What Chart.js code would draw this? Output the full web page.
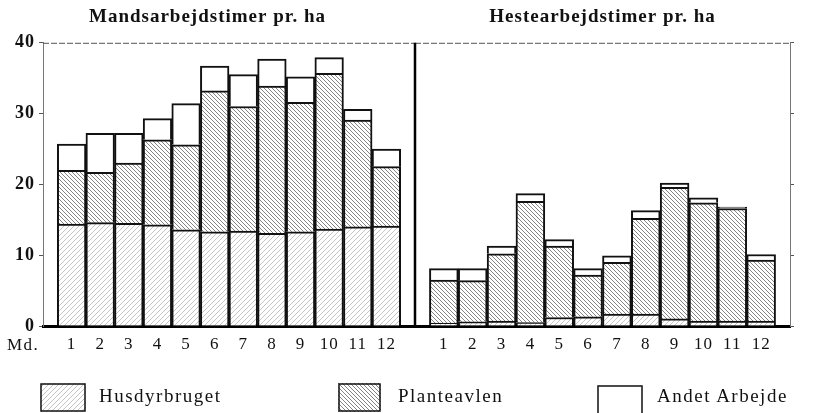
<!DOCTYPE html>
<html>
<head>
<meta charset="utf-8">
<script src="https://cdn.jsdelivr.net/npm/chart.js@4.4.0/dist/chart.umd.min.js"></script>
<style>
body { margin: 0; background: #fff; width: 815px; height: 413px; position: relative; overflow: hidden; font-family: 'Liberation Serif', 'DejaVu Serif', serif; color: #111; }
canvas.chart { position: absolute; top: 0; }
#left { left: 0; }
#right { left: 400px; }
.md { position: absolute; left: 7px; top: 336px; font-size: 17px; line-height: 17px; letter-spacing: 1.5px; }
.sw { position: absolute; top: 383px; }
.lt { position: absolute; top: 386px; font-size: 19px; line-height: 20px; letter-spacing: 1.5px; }
</style>
</head>
<body>
<canvas id="left" class="chart" width="430" height="413"></canvas>
<canvas id="right" class="chart" width="415" height="413"></canvas>
<div class="md">Md.</div>
<canvas id="sw1" class="sw" width="46" height="29" style="left:40px"></canvas>
<div class="lt" style="left:99px">Husdyrbruget</div>
<canvas id="sw2" class="sw" width="43" height="29" style="left:338px"></canvas>
<div class="lt" style="left:398px">Planteavlen</div>
<canvas id="sw3" class="sw" width="46" height="30" style="left:597px;top:385px"></canvas>
<div class="lt" style="left:657px">Andet Arbejde</div>
<script>
const months = [1, 2, 3, 4, 5, 6, 7, 8, 9, 10, 11, 12];
const seriesNames = ['Husdyrbruget', 'Planteavlen', 'Andet Arbejde'];

// Mandsarbejdstimer pr. ha (stacked segment heights)
const mandHusdyr = [14.4, 14.6, 14.5, 14.3, 13.6, 13.3, 13.4, 13.1, 13.3, 13.7, 14.0, 14.1];
const mandPlante = [7.6, 7.1, 8.5, 12.0, 12.0, 19.9, 17.6, 20.8, 18.3, 22.0, 15.1, 8.4];
const mandAndet = [3.7, 5.5, 4.2, 3.0, 5.8, 3.5, 4.5, 3.8, 3.6, 2.2, 1.5, 2.5];

// Hestearbejdstimer pr. ha
const hestHusdyr = [0.4, 0.6, 0.7, 0.5, 1.2, 1.3, 1.7, 1.7, 1.0, 0.7, 0.7, 0.7];
const hestPlante = [6.1, 5.8, 9.5, 17.1, 10.1, 5.9, 7.3, 13.5, 18.6, 16.7, 15.9, 8.6];
const hestAndet = [1.6, 1.7, 1.1, 1.1, 0.9, 0.9, 0.9, 1.1, 0.6, 0.7, 0.2, 0.8];

const yTicks = [0, 10, 20, 30, 40];

const serif = "'Liberation Serif', 'DejaVu Serif', serif";

function hatch(ctx, size, dir, color, lw) {
    const c = document.createElement('canvas');
    c.width = c.height = size;
    const g = c.getContext('2d');
    g.fillStyle = '#fff';
    g.fillRect(0, 0, size, size);
    g.strokeStyle = color;
    g.lineWidth = lw;
    g.beginPath();
    for (let k = -1; k <= 1; k++) {
        const o = k * size;
        if (dir > 0) { g.moveTo(o, size); g.lineTo(o + size, 0); }
        else { g.moveTo(o, 0); g.lineTo(o + size, size); }
    }
    g.stroke();
    return ctx.createPattern(c, 'repeat');
}
const husPattern = (ctx) => hatch(ctx, 5, 1, '#c4c4c4', 1);
const plaPattern = (ctx) => hatch(ctx, 4, -1, '#858585', 1);

// top dotted frame line + thick divider between the two panels
const frameLines = {
    id: 'frameLines',
    beforeDraw(chart) {
        chart.ctx.letterSpacing = '1px';
    },
    afterDraw(chart, args, opts) {
        const {ctx, chartArea: a} = chart;
        ctx.save();
        ctx.strokeStyle = '#555';
        ctx.lineWidth = 1;
        ctx.setLineDash([6, 2]);
        ctx.beginPath();
        ctx.moveTo(a.left, a.top + 0.5);
        ctx.lineTo(a.right, a.top + 0.5);
        ctx.stroke();
        if (opts.divider) {
            ctx.setLineDash([]);
            ctx.strokeStyle = '#000';
            ctx.lineWidth = 2.5;
            ctx.beginPath();
            ctx.moveTo(a.left, a.top);
            ctx.lineTo(a.left, a.bottom);
            ctx.stroke();
        }
        ctx.restore();
    }
};

function makeChart(id, title, husdyr, plante, andet, side) {
    const ctx = document.getElementById(id).getContext('2d');
    const mk = (label, data, bg) => ({
        label: label,
        data: data,
        backgroundColor: bg,
        borderColor: '#111',
        borderWidth: 2,
        barPercentage: 1,
        categoryPercentage: 1
    });
    return new Chart(ctx, {
        type: 'bar',
        data: {
            labels: months,
            datasets: [
                mk(seriesNames[0], husdyr, husPattern(ctx)),
                mk(seriesNames[1], plante, plaPattern(ctx)),
                mk(seriesNames[2], andet, '#fff')
            ]
        },
        plugins: [frameLines],
        options: {
            responsive: false,
            animation: false,
            layout: {
                padding: side === 'left' ? {left: 0, right: 15, top: 0, bottom: 0} : {left: 15, right: 25, top: 0, bottom: 0}
            },
            plugins: {
                legend: { display: false },
                tooltip: { enabled: false },
                title: {
                    display: true,
                    text: title,
                    color: '#111',
                    font: { family: serif, size: 19, weight: 'bold', lineHeight: 1.2 },
                    padding: { top: 6, bottom: 14 }
                },
                frameLines: { divider: side === 'right' }
            },
            scales: {
                x: {
                    type: 'linear',
                    offset: false,
                    stacked: true,
                    min: 0,
                    max: 13,
                    afterBuildTicks: (s) => { s.ticks = [0].concat(months, [13]).map(v => ({value: v})); },
                    afterFit: (s) => { s.height = 87; },
                    ticks: {
                        callback: (v) => (v >= 1 && v <= 12) ? String(v) : '',
                        color: '#111',
                        font: { family: serif, size: 17 },
                        padding: 8,
                        maxRotation: 0,
                        autoSkip: false
                    },
                    grid: { display: false, drawTicks: false },
                    border: { display: true, color: '#000', width: 3 }
                },
                y: {
                    position: side,
                    stacked: true,
                    min: 0,
                    max: 40,
                    afterBuildTicks: (s) => { s.ticks = yTicks.map(v => ({value: v})); },
                    afterFit: (s) => { s.width = side === 'left' ? 43 : 0; },
                    ticks: {
                        color: '#111',
                        font: { family: serif, size: 18, weight: 'bold' },
                        padding: side === 'left' ? 4 : 3
                    },
                    grid: { drawOnChartArea: false, drawTicks: true, tickLength: 4, color: '#555' },
                    border: { display: true, color: '#777', width: 1, dash: [3, 2] }
                }
            }
        }
    });
}

makeChart('left', 'Mandsarbejdstimer pr. ha', mandHusdyr, mandPlante, mandAndet, 'left');
makeChart('right', 'Hestearbejdstimer pr. ha', hestHusdyr, hestPlante, hestAndet, 'right');

// legend swatches
function swatch(id, fill) {
    const cv = document.getElementById(id);
    const g = cv.getContext('2d');
    g.fillStyle = fill === 'hus' ? husPattern(g) : fill === 'pla' ? plaPattern(g) : '#fff';
    g.fillRect(0, 0, cv.width, cv.height);
    g.strokeStyle = '#111';
    g.lineWidth = 1.5;
    g.strokeRect(1, 1, cv.width - 2, cv.height - 2);
}
swatch('sw1', 'hus');
swatch('sw2', 'pla');
swatch('sw3', 'white');
</script>
</body>
</html>
